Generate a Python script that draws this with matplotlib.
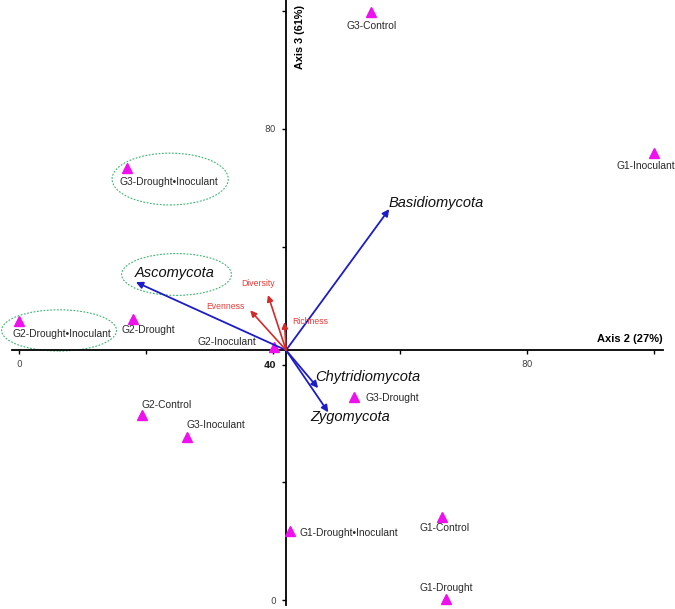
import matplotlib
matplotlib.use("Agg")
import matplotlib.pyplot as plt
from matplotlib.patches import Ellipse

# ---- data ----
samples = ["G3-Control", "G1-Inoculant", "G3-Drought\u2022Inoculant", "G2-Drought\u2022Inoculant",
           "G2-Drought", "G2-Inoculant", "G2-Control", "G3-Inoculant", "G3-Drought",
           "G1-Drought\u2022Inoculant", "G1-Control", "G1-Drought"]
sample_x = [55.5, 100.0, 17.0, 0.0, 17.9, 40.2, 19.3, 26.4, 52.8, 42.7, 66.6, 67.2]
sample_y = [99.9, 75.9, 73.3, 47.4, 47.8, 42.9, 31.5, 27.7, 34.5, 11.7, 14.1, 0.2]

taxa = ["Basidiomycota", "Ascomycota", "Chytridiomycota", "Zygomycota"]
taxa_x = [58.3, 18.4, 47.1, 48.7]
taxa_y = [66.4, 54.0, 36.0, 31.9]

indices = ["Diversity", "Evenness", "Richness"]
index_x = [39.2, 36.4, 41.8]
index_y = [51.8, 49.2, 47.2]

origin_x, origin_y = 42.05, 42.44

tick_values = [0, 20, 40, 60, 80, 100]
xtick_labels = ["0", "", "", "", "80", ""]
ytick_labels = ["0", "", "40", "", "80", ""]
xlabel_text = "Axis 2 (27%)"
ylabel_text = "Axis 3 (61%)"

# ---- styling / placement (pixel offsets: dx right, dy down) ----
sample_lab = {
    "G3-Control": (0, 14, "center"),
    "G1-Inoculant": (-8, 13, "center"),
    "G3-Drought\u2022Inoculant": (-7, 14, "left"),
    "G2-Drought\u2022Inoculant": (-7, 13, "left"),
    "G2-Drought": (-11, 11, "left"),
    "G2-Inoculant": (-18, -5, "right"),
    "G2-Control": (0, -10, "left"),
    "G3-Inoculant": (0, -12, "left"),
    "G3-Drought": (11, 1, "left"),
    "G1-Drought\u2022Inoculant": (9, 2, "left"),
    "G1-Control": (3, 11, "center"),
    "G1-Drought": (0, -11, "center"),
}
taxa_lab = {
    "Basidiomycota": (-1, -6, "left"),
    "Ascomycota": (-1, -9, "left"),
    "Chytridiomycota": (-3, -11, "left"),
    "Zygomycota": (-18, 5, "left"),
}
index_lab = {
    "Diversity": (-10, -12, "center"),
    "Evenness": (-6, -4, "right"),
    "Richness": (8, -1, "left"),
}

fig = plt.figure(figsize=(6.75, 6.09), dpi=100)
ax = fig.add_axes([0, 0, 1, 1])
ax.set_xlim(-3.0, 103.3)
ax.set_ylim(-1.5, 101.9)

for s in ["top", "right"]:
    ax.spines[s].set_visible(False)
ax.spines["left"].set_position(("data", origin_x))
ax.spines["bottom"].set_position(("data", origin_y))
ax.spines["left"].set_bounds(-0.85, 101.9)
ax.spines["bottom"].set_bounds(-1.1, 101.4)
for s in ["left", "bottom"]:
    ax.spines[s].set_linewidth(1.3)
    ax.spines[s].set_color("black")

ax.set_xticks(tick_values)
ax.set_xticklabels(xtick_labels)
ax.set_yticks(tick_values)
ax.set_yticklabels(ytick_labels)
ax.tick_params(axis="both", direction="out", length=3, width=1, colors="black",
               labelsize=6.5, labelcolor="#444444", pad=4)
for lab in ax.get_yticklabels():
    if lab.get_text() == "40":
        lab.set_fontweight("bold")
        lab.set_color("#222222")

# ellipses
ell_specs = [(23.8, 71.5, 18.3, 8.8), (24.8, 55.3, 17.3, 7.1), (6.3, 45.8, 18.1, 7.0)]
for cx, cy, w, h in ell_specs:
    ax.add_patch(Ellipse((cx, cy), w, h, fill=False, edgecolor="#3cb371",
                         linestyle=(0, (1.6, 1.4)), linewidth=0.8, zorder=2))

# arrows
for name, x, y in zip(taxa, taxa_x, taxa_y):
    ax.annotate("", xy=(x, y), xytext=(origin_x, origin_y),
                arrowprops=dict(arrowstyle="-|>", color="#1c1cc8", lw=1.3,
                                mutation_scale=10, shrinkA=0, shrinkB=0), zorder=4)
    dx, dy, ha = taxa_lab[name]
    ax.annotate(name, xy=(x, y), xytext=(dx, -dy), textcoords="offset pixels",
                ha=ha, va="center", fontsize=10.5, style="italic",
                family=["Liberation Sans", "DejaVu Sans"], color="#111111", zorder=5)

for name, x, y in zip(indices, index_x, index_y):
    ax.annotate("", xy=(x, y), xytext=(origin_x, origin_y),
                arrowprops=dict(arrowstyle="-|>", color="#d42a2a", lw=1.2,
                                mutation_scale=9, shrinkA=0, shrinkB=0), zorder=4)
    dx, dy, ha = index_lab[name]
    ax.annotate(name, xy=(x, y), xytext=(dx, -dy), textcoords="offset pixels",
                ha=ha, va="center", fontsize=6.2,
                family=["Liberation Sans", "DejaVu Sans"], color="#e83a3a", zorder=5)

# samples
ax.plot(sample_x, sample_y, linestyle="none", marker="^", markersize=7,
        color="#ee11ee", markeredgecolor="#ee11ee", zorder=3)
for name, x, y in zip(samples, sample_x, sample_y):
    dx, dy, ha = sample_lab[name]
    ax.annotate(name, xy=(x, y), xytext=(dx, -dy), textcoords="offset pixels",
                ha=ha, va="center", fontsize=7.4,
                family=["Liberation Sans", "DejaVu Sans"], color="#2a2a2a", zorder=5)

# axis titles
ax.text(101.4, 44.3, xlabel_text, ha="right", va="center", fontsize=8,
        fontweight="bold", family=["Liberation Sans", "DejaVu Sans"])
ax.text(44.25, 101.0, ylabel_text, ha="center", va="top", rotation=90, fontsize=7.8,
        fontweight="bold", family=["Liberation Sans", "DejaVu Sans"])

fig.savefig("out.png", dpi=100)
